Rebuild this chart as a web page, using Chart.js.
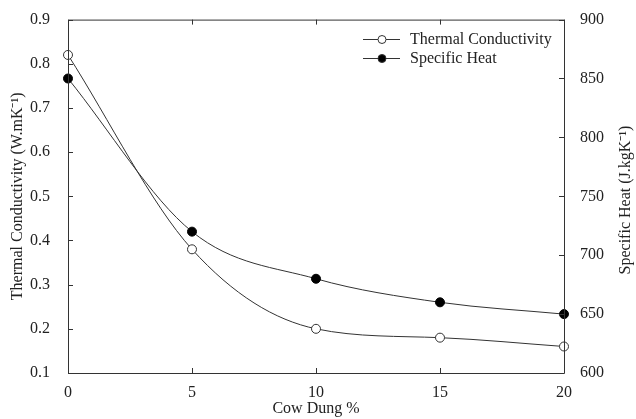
<!DOCTYPE html>
<html><head><meta charset="utf-8">
<script src="https://cdn.jsdelivr.net/npm/chart.js@4"></script>
<style>html,body{margin:0;padding:0;background:#fff;}#wrap{width:636px;height:419px;}</style>
</head><body><div id="wrap"><canvas id="c" width="636" height="419"></canvas></div>
<script>
const cowDung = [0, 5, 10, 15, 20];
const thermalConductivity = [0.82, 0.38, 0.20, 0.18, 0.16];
const specificHeat = [850, 720, 680, 660, 650];
const xTitle = 'Cow Dung %';
const leftTitle = 'Thermal Conductivity (W.mK\u207B\u00B9)';
const rightTitle = 'Specific Heat (J.kgK\u207B\u00B9)';
const legendLabels = ['Thermal Conductivity', 'Specific Heat'];

const FONT = '"Liberation Serif", "Times New Roman", serif';
const INK = '#333';

const extras = {
  id: 'extras',
  afterDraw(chart) {
    const ctx = chart.ctx, a = chart.chartArea;
    const sx = chart.scales.x, yl = chart.scales.y, yr = chart.scales.y2;
    ctx.save();
    ctx.strokeStyle = INK; ctx.lineWidth = 1;
    ctx.beginPath();
    ctx.rect(a.left + 0.5, a.top + 0.5, a.right - a.left, a.bottom - a.top);
    ctx.stroke();
    ctx.beginPath();
    sx.ticks.forEach(t => { const p = Math.round(sx.getPixelForValue(t.value)) + 0.5;
      ctx.moveTo(p, a.bottom); ctx.lineTo(p, a.bottom - 5);
      ctx.moveTo(p, a.top); ctx.lineTo(p, a.top + 5); });
    yl.ticks.forEach(t => { const p = Math.round(yl.getPixelForValue(t.value)) + 0.5;
      ctx.moveTo(a.left, p); ctx.lineTo(a.left + 5, p); });
    yr.ticks.forEach(t => { const p = Math.round(yr.getPixelForValue(t.value)) + 0.5;
      ctx.moveTo(a.right, p); ctx.lineTo(a.right - 5, p); });
    ctx.stroke();
    ctx.fillStyle = '#222';
    ctx.font = '16px ' + FONT;
    ctx.textAlign = 'center'; ctx.textBaseline = 'middle';
    ctx.fillText(xTitle, (a.left + a.right) / 2, 409);
    ctx.save(); ctx.translate(18, (a.top + a.bottom) / 2); ctx.rotate(-Math.PI / 2);
    ctx.fillText(leftTitle, 0, 0); ctx.restore();
    ctx.save(); ctx.translate(626, 200); ctx.rotate(-Math.PI / 2);
    ctx.fillText(rightTitle, 0, 0); ctx.restore();
    const rows = [39, 58];
    chart.data.datasets.forEach((ds, i) => {
      const y = rows[i] + 0.5;
      ctx.beginPath(); ctx.moveTo(363, y); ctx.lineTo(400, y); ctx.stroke();
      ctx.beginPath(); ctx.arc(382, y, 4, 0, Math.PI * 2);
      ctx.fillStyle = ds.pointBackgroundColor; ctx.fill(); ctx.stroke();
      ctx.fillStyle = '#222'; ctx.textAlign = 'left';
      ctx.font = '16px ' + FONT;
      ctx.fillText(legendLabels[i], 410, y);
    });
    ctx.restore();
  }
};

new Chart(document.getElementById('c'), {
  type: 'line',
  data: {
    datasets: [
      { label: legendLabels[0], data: cowDung.map((x, i) => ({x, y: thermalConductivity[i]})),
        yAxisID: 'y', borderColor: INK, borderWidth: 1, pointRadius: 4.5,
        pointBackgroundColor: '#fff', pointBorderColor: INK, pointBorderWidth: 1,
        cubicInterpolationMode: 'monotone', clip: false },
      { label: legendLabels[1], data: cowDung.map((x, i) => ({x, y: specificHeat[i]})),
        yAxisID: 'y2', borderColor: INK, borderWidth: 1, pointRadius: 4.5,
        pointBackgroundColor: '#000', pointBorderColor: '#000', pointBorderWidth: 1,
        cubicInterpolationMode: 'monotone', clip: false }
    ]
  },
  options: {
    responsive: false, animation: false,
    layout: { padding: { top: 18, left: 0, right: 0, bottom: 0 } },
    plugins: { legend: { display: false }, tooltip: { enabled: false } },
    scales: {
      x: { type: 'linear', min: 0, max: 20,
        ticks: { stepSize: 5, color: '#222', font: { family: FONT, size: 16 }, padding: 2, maxRotation: 0 },
        grid: { display: false }, border: { display: false },
        afterFit(s) { s.height = 46; } },
      y: { position: 'left', min: 0.1, max: 0.9,
        ticks: { stepSize: 0.1, color: '#222', font: { family: FONT, size: 16 }, padding: 10,
          callback: v => v.toFixed(1) },
        grid: { display: false }, border: { display: false },
        afterFit(s) { s.width = 68; } },
      y2: { position: 'right', min: 600, max: 900,
        ticks: { stepSize: 50, color: '#222', font: { family: FONT, size: 16 }, padding: 8 },
        grid: { display: false }, border: { display: false },
        afterFit(s) { s.width = 72; } }
    }
  },
  plugins: [extras]
});
</script></body></html>
